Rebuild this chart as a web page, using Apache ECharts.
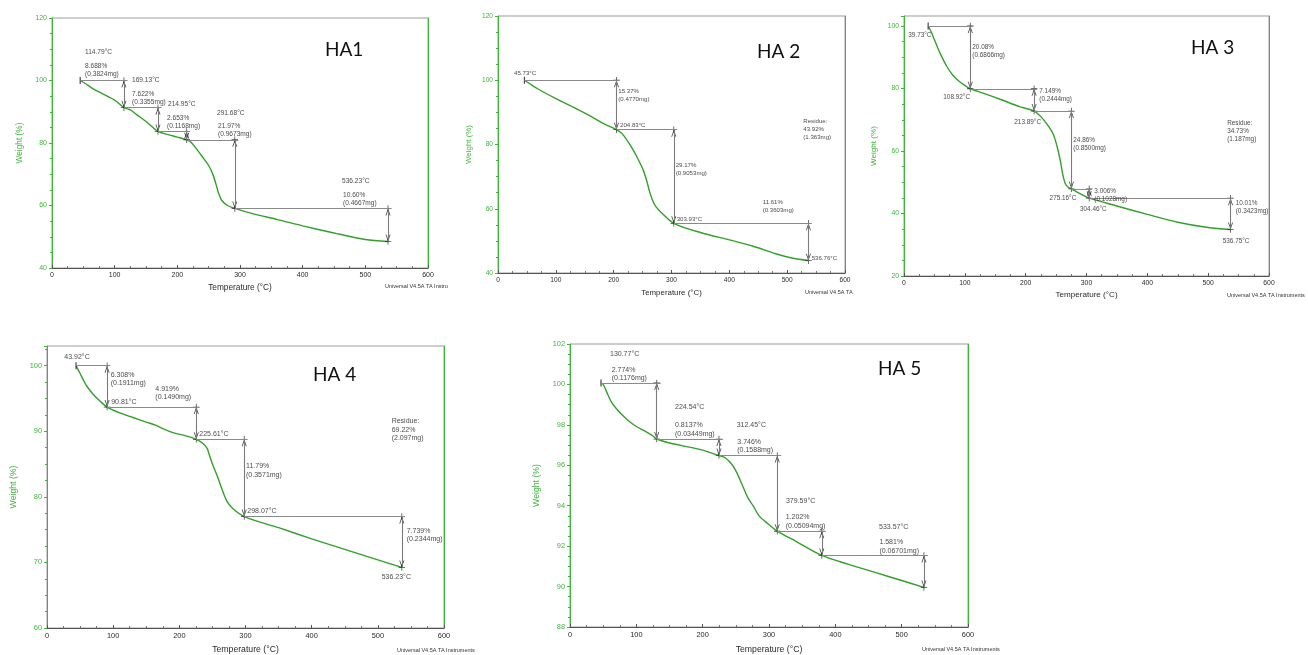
<!DOCTYPE html>
<html>
<head>
<meta charset="utf-8">
<script src="https://cdn.jsdelivr.net/npm/echarts@6/dist/echarts.min.js"></script>
<style>
  html, body { margin: 0; padding: 0; background: #ffffff; }
  #chart { width: 1308px; height: 655px; }
</style>
</head>
<body>
<div id="chart"></div>
<script>
// Thermogravimetric curves for five HA samples: temperature (°C) vs residual weight (%).
// Each step is [end temperature °C, weight loss %, weight loss mg].

const xTicks = [0, 100, 200, 300, 400, 500, 600];

// ---- HA1 ----
const ha1Curve = [
  [45, 100], [55, 98.8], [65, 97.4], [80, 95.8], [100, 93.7], [114.79, 91.31],
  [125, 90.6], [135, 89.1], [150, 86.9], [169.13, 83.69], [185, 82.7], [200, 81.9],
  [214.95, 81.04], [222, 80.2], [230, 78.3], [240, 75.6], [250, 72.8], [257, 69.8],
  [262, 66.6], [266, 63.8], [271, 61.6], [280, 60.0], [291.68, 59.07], [320, 57.4],
  [360, 55.5], [400, 53.5], [450, 51.2], [500, 49.1], [536.23, 48.47]
];
const ha1Origin = [45, 100];
const ha1Steps = [
  [114.79, 8.688, 0.3824], [169.13, 7.622, 0.3355], [214.95, 2.653, 0.1168],
  [291.68, 21.97, 0.9673], [536.23, 10.60, 0.4667]
];
const ha1Residue = null;
const ha1YTicks = [40, 60, 80, 100, 120];

// ---- HA 2 ----
const ha2Curve = [
  [45.73, 100], [55, 98.9], [70, 97.2], [100, 94.3], [130, 91.6], [160, 88.8],
  [185, 86.3], [204.83, 84.63], [215, 83.3], [230, 79.4], [242, 75.5], [251, 72.1],
  [257, 68.8], [262, 65.4], [267, 62.7], [272, 60.9], [283, 58.7], [303.93, 55.46],
  [350, 52.6], [400, 50.3], [440, 48.4], [480, 46.0], [510, 44.6], [536.76, 43.9]
];
const ha2Origin = [45.73, 100];
const ha2Steps = [
  [204.83, 15.37, 0.4770], [303.93, 29.17, 0.9053], [536.76, 11.61, 0.3603]
];
const ha2Residue = [43.92, 1.363];
const ha2YTicks = [40, 60, 80, 100, 120];

// ---- HA 3 ----
const ha3Curve = [
  [39.73, 100], [45, 98], [50, 95.6], [55, 93.2], [62, 90.2], [70, 87.2], [80, 84.3],
  [90, 82.4], [100, 81.0], [108.92, 79.92], [130, 78.5], [160, 76.4], [190, 74.2],
  [213.89, 72.77], [225, 71.0], [235, 68.6], [245, 65.5], [252, 61.2], [257, 56.8],
  [261, 52.5], [265, 49.6], [270, 48.4], [275.16, 47.91], [290, 46.3], [304.46, 44.9],
  [350, 42.4], [400, 39.7], [450, 37.2], [500, 35.5], [536.75, 34.89]
];
const ha3Origin = [39.73, 100];
const ha3Steps = [
  [108.92, 20.08, 0.6866], [213.89, 7.149, 0.2444], [275.16, 24.86, 0.8500],
  [304.46, 3.006, 0.1028], [536.75, 10.01, 0.3423]
];
const ha3Residue = [34.73, 1.187];
const ha3YTicks = [20, 40, 60, 80, 100];

// ---- HA 4 ----
const ha4Curve = [
  [43.92, 100], [50, 98.8], [55, 97.8], [60, 96.9], [70, 95.6], [80, 94.6],
  [90.81, 93.69], [110, 92.8], [130, 92.1], [150, 91.4], [165, 90.9], [175, 90.4],
  [190, 89.8], [210, 89.3], [225.61, 88.77], [235, 88.2], [242, 87.4], [245, 86.5],
  [250, 85.0], [258, 83.0], [265, 81.0], [272, 79.3], [280, 78.3], [298.07, 76.98],
  [350, 75.3], [400, 73.6], [450, 72.0], [500, 70.4], [536.23, 69.24]
];
const ha4Origin = [43.92, 100];
const ha4Steps = [
  [90.81, 6.308, 0.1911], [225.61, 4.919, 0.1490], [298.07, 11.79, 0.3571],
  [536.23, 7.739, 0.2344]
];
const ha4Residue = [69.22, 2.097];
const ha4YTicks = [60, 70, 80, 90, 100];

// ---- HA 5 ----
const ha5Curve = [
  [46.7, 100.07], [50, 100.0], [53, 99.8], [57, 99.5], [62, 99.15], [70, 98.8],
  [80, 98.45], [90, 98.15], [100, 97.92], [115, 97.65], [125, 97.45], [130.77, 97.30],
  [150, 97.1], [180, 96.9], [200, 96.75], [224.54, 96.48], [235, 96.35], [245, 96.0],
  [252, 95.6], [260, 95.0], [268, 94.4], [276, 94.0], [285, 93.5], [295, 93.2],
  [312.45, 92.74], [340, 92.25], [379.59, 91.54], [420, 91.1], [460, 90.7],
  [500, 90.3], [533.57, 89.96]
];
const ha5Origin = [46.7, 100.07];
const ha5Steps = [
  [130.77, 2.774, 0.1176], [224.54, 0.8137, 0.03449], [312.45, 3.746, 0.1588],
  [379.59, 1.202, 0.05094], [533.57, 1.581, 0.06701]
];
const ha5Residue = null;
const ha5YTicks = [88, 90, 92, 94, 96, 98, 100, 102];

// ---- layout ----
const AXIS_GREEN = '#3db53a';
const CURVE_GREEN = '#32a02a';
const FONT = 'Liberation Sans, Arial, sans-serif';

const panels = [
  {
    title: 'HA1', curve: ha1Curve, origin: ha1Origin, steps: ha1Steps, residue: ha1Residue, yTicks: ha1YTicks,
    box: { left: 52, top: 18, width: 376, height: 250 }, yMax: 120,
    titleAt: [325, 40], fs: 6.6, tickFs: 7, xGap: 16, yGap: 28,
    originLabel: null,
    tempAt: [[52.7, 109.1], [127.7, 100.2], [185.1, 92.5], [263.3, 89.6], [462.7, 67.8]],
    lossAt: [[52.7, 103.4], [127.7, 94.4], [183.5, 86.7], [264.9, 84.0], [464.3, 62.1]],
    residueAt: null, ext: 5.5,
    brand: { text: 'Universal V4.5A TA Instru', x: 385, y: 283 }
  },
  {
    title: 'HA 2', curve: ha2Curve, origin: ha2Origin, steps: ha2Steps, residue: ha2Residue, yTicks: ha2YTicks,
    box: { left: 498, top: 16, width: 347, height: 257 }, yMax: 120,
    titleAt: [757, 42], fs: 6.1, tickFs: 6.6, xGap: 16, yGap: 25,
    originLabel: [27.7, 102.3],
    tempAt: [[211.0, 86.0], [309.0, 56.8], [542.4, 44.6]],
    lossAt: [[208.0, 95.4], [307.3, 72.2], [457.7, 60.8]],
    residueAt: [527.9, 84.7], ext: 4.5,
    brand: { text: 'Universal V4.5A TA', x: 805, y: 289 }
  },
  {
    title: 'HA 3', curve: ha3Curve, origin: ha3Origin, steps: ha3Steps, residue: ha3Residue, yTicks: ha3YTicks,
    box: { left: 904, top: 16, width: 365, height: 260 }, yMax: 103.2,
    titleAt: [1191, 38], fs: 6.4, tickFs: 6.8, xGap: 15, yGap: 26,
    originLabel: [7.1, 97.1],
    tempAt: [[64.6, 77.1], [181.3, 69.2], [239.3, 44.9], [289.3, 41.4], [523.9, 31.2]],
    lossAt: [[112.3, 92.0], [222.4, 77.9], [278.3, 62.3], [312.9, 46.0], [545.3, 42.1]],
    residueAt: [531.2, 66.3], ext: 4.5,
    brand: { text: 'Universal V4.5A TA Instruments', x: 1227, y: 292 }
  },
  {
    title: 'HA 4', curve: ha4Curve, origin: ha4Origin, steps: ha4Steps, residue: ha4Residue, yTicks: ha4YTicks,
    box: { left: 47, top: 346, width: 397, height: 284 }, yMax: 103,
    titleAt: [313, 365], fs: 7, tickFs: 7.4, xGap: 17, yGap: 29,
    originLabel: [26.2, 101.3],
    tempAt: [[97.0, 94.4], [230.2, 89.5], [302.7, 77.8], [505.8, 67.7]],
    lossAt: [[96.2, 97.95], [163.7, 95.8], [300.8, 84.0], [543.6, 74.2]],
    residueAt: [520.9, 90.2], ext: 4.5,
    brand: { text: 'Universal V4.5A TA Instruments', x: 397, y: 647 }
  },
  {
    title: 'HA 5', curve: ha5Curve, origin: ha5Origin, steps: ha5Steps, residue: ha5Residue, yTicks: ha5YTicks,
    box: { left: 570, top: 344, width: 398, height: 285 }, yMax: 102,
    titleAt: [878, 359], fs: 7, tickFs: 7.4, xGap: 18, yGap: 29,
    originLabel: null,
    tempAt: [[60.3, 101.51], [158.3, 98.87], [251.3, 97.97], [325.6, 94.22], [465.9, 92.96]],
    lossAt: [[62.8, 100.52], [158.3, 97.78], [252.2, 96.95], [325.2, 93.22], [466.4, 91.99]],
    residueAt: null, ext: 6,
    brand: { text: 'Universal V4.5A TA Instruments', x: 922, y: 646 }
  }
];

// marker shapes: cross at step end points, short bar at curve start, chevron arrow heads
const CROSS = 'path://M4.4,0h1.2v10h-1.2zM0,4.4h10v1.2h-10z';
const HEAD_UP = 'path://M5,0L10,10L8.4,10L5,3.2L1.6,10L0,10z';
const HEAD_DOWN = 'path://M0,0L1.6,0L5,6.8L8.4,0L10,0L5,10z';

const grids = [], xAxes = [], yAxes = [], series = [], titles = [], graphics = [];

panels.forEach((p, i) => {
  grids.push(Object.assign({ show: true, borderColor: '#9c9c9c', borderWidth: 1 }, p.box));

  xAxes.push({
    type: 'value', gridIndex: i, min: xTicks[0], max: xTicks[xTicks.length - 1],
    interval: xTicks[1] - xTicks[0],
    name: 'Temperature (°C)', nameLocation: 'middle', nameGap: p.xGap,
    nameTextStyle: { fontFamily: FONT, fontSize: p.tickFs + 1.3, color: '#2a2a2a' },
    axisLine: { lineStyle: { color: '#555', width: 1 } },
    axisTick: { inside: true, length: 3, lineStyle: { color: '#555' } },
    minorTick: { show: true, splitNumber: 4, length: 2, lineStyle: { color: '#777' } },
    axisLabel: { fontFamily: FONT, fontSize: p.tickFs, color: '#2a2a2a', margin: 4 },
    splitLine: { show: false }
  });

  const yMin = p.yTicks[0];
  const yStep = p.yTicks[1] - p.yTicks[0];
  yAxes.push({
    type: 'value', gridIndex: i, min: yMin, max: p.yMax, interval: yStep,
    name: 'Weight (%)', nameLocation: 'middle', nameGap: p.yGap,
    nameTextStyle: { fontFamily: FONT, fontSize: p.tickFs + 1.3, color: AXIS_GREEN },
    axisLine: { show: true, lineStyle: { color: AXIS_GREEN, width: 1 } },
    axisTick: { show: true, length: 3, lineStyle: { color: AXIS_GREEN } },
    minorTick: { show: true, splitNumber: 4, length: 2, lineStyle: { color: AXIS_GREEN } },
    axisLabel: {
      fontFamily: FONT, fontSize: p.tickFs, color: AXIS_GREEN, margin: 5,
      formatter: v => (p.yTicks.indexOf(v) >= 0 ? String(v) : '')
    },
    splitLine: { show: false }
  });

  // step construction lines, arrow heads and markers
  const lines = [];
  const marks = [{ value: [p.origin[0], p.origin[1]], symbol: 'rect', symbolSize: [1.2, 7] }];
  const heads = [];
  const labels = [];
  let t0 = p.origin[0];
  let w = p.origin[1];
  if (p.originLabel) {
    labels.push({ value: p.originLabel, name: p.origin[0].toFixed(2) + '°C' });
  }
  p.steps.forEach((s, k) => {
    const t1 = s[0], loss = s[1], mg = s[2];
    const w1 = w - loss;
    lines.push([{ coord: [t0, w] }, { coord: [t1 + p.ext, w] }]);
    lines.push([
      { coord: [t1, w], lineStyle: { color: '#7a7a7a', width: 1.1 } },
      { coord: [t1, w1] }
    ]);
    marks.push([t1, w], [t1, w1]);
    heads.push({ value: [t1, w], symbol: HEAD_UP, symbolOffset: [0, '50%'] });
    heads.push({ value: [t1, w1], symbol: HEAD_DOWN, symbolOffset: [0, '-50%'] });
    labels.push({ value: p.tempAt[k], name: t1.toFixed(2) + '°C' });
    labels.push({ value: p.lossAt[k], name: loss.toPrecision(4) + '%\n(' + mg.toPrecision(4) + 'mg)' });
    t0 = t1;
    w = w1;
  });
  if (p.residue && p.residueAt) {
    labels.push({
      value: p.residueAt,
      name: 'Residue:\n' + p.residue[0].toFixed(2) + '%\n(' + p.residue[1].toPrecision(4) + 'mg)'
    });
  }

  series.push({
    type: 'line', name: p.title, xAxisIndex: i, yAxisIndex: i,
    data: p.curve, smooth: 0.3, showSymbol: false, symbol: 'none',
    lineStyle: { color: CURVE_GREEN, width: 1.4 }, z: 3,
    markLine: {
      silent: true, animation: false, symbol: 'none',
      label: { show: false },
      lineStyle: { color: '#8a8a8a', width: 1, type: 'solid' },
      emphasis: { disabled: true },
      data: lines
    }
  });

  series.push({
    type: 'scatter', xAxisIndex: i, yAxisIndex: i, data: marks,
    symbol: CROSS, symbolSize: 6.5, itemStyle: { color: '#1a1a1a' }, silent: true, z: 4
  });

  series.push({
    type: 'scatter', xAxisIndex: i, yAxisIndex: i, data: heads,
    symbolSize: [5, 7], itemStyle: { color: '#111' }, silent: true, z: 4
  });

  series.push({
    type: 'scatter', xAxisIndex: i, yAxisIndex: i, data: labels,
    symbolSize: 0, silent: true, z: 5,
    label: {
      show: true, position: 'right', distance: 0, formatter: '{b}',
      fontFamily: FONT, fontSize: p.fs, lineHeight: p.fs + 1.6, color: '#151515'
    }
  });

  titles.push({
    text: p.title, left: p.titleAt[0], top: p.titleAt[1], padding: 0,
    textStyle: { fontFamily: 'Lato, "Open Sans", sans-serif', fontSize: 19, fontWeight: 'normal', color: '#111', lineHeight: 20 }
  });

  graphics.push({
    type: 'text', left: p.brand.x, top: p.brand.y, silent: true,
    style: { text: p.brand.text, fontFamily: FONT, fontSize: 5.5, fill: '#333' }
  });
});

// green right-hand border of every plot frame
panels.forEach((p, i) => {
  yAxes.push({
    type: 'value', gridIndex: i, position: 'right', min: p.yTicks[0], max: p.yMax,
    axisLine: { show: true, lineStyle: { color: AXIS_GREEN, width: 1 } },
    axisTick: { show: false }, axisLabel: { show: false }, splitLine: { show: false }
  });
});

const chart = echarts.init(document.getElementById('chart'), null, { renderer: 'canvas' });
chart.setOption({
  animation: false,
  backgroundColor: '#ffffff',
  title: titles,
  grid: grids,
  xAxis: xAxes,
  yAxis: yAxes,
  series: series,
  graphic: graphics
});
</script>
</body>
</html>
